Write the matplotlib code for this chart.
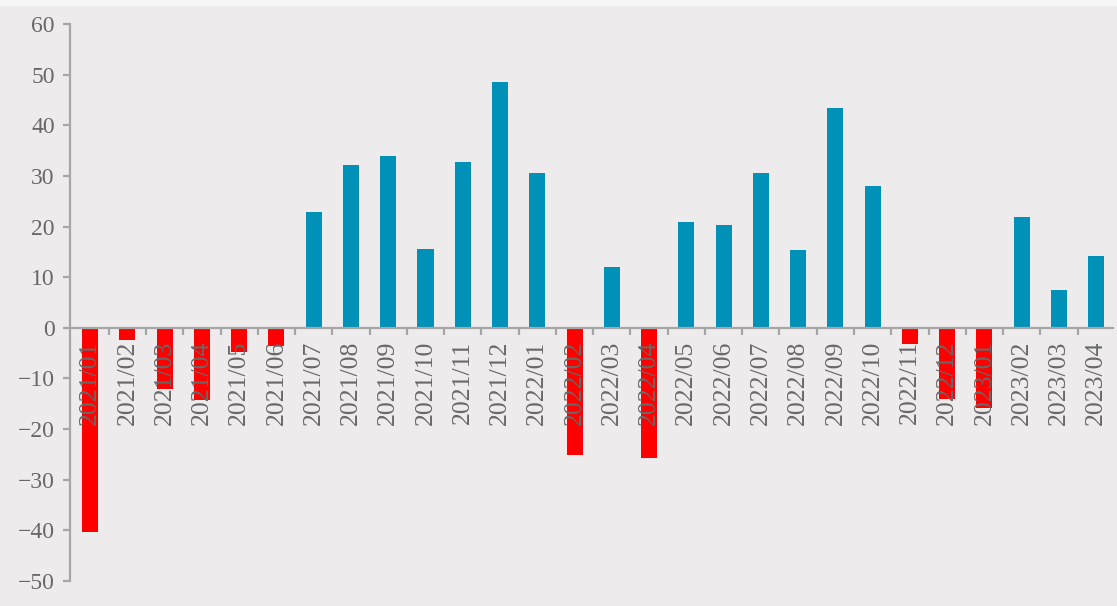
import numpy as np
import matplotlib.pyplot as plt
from matplotlib.patches import Rectangle

# ----------------- DATA -----------------

months = [
    "2021/01", "2021/02", "2021/03", "2021/04", "2021/05", "2021/06",
    "2021/07", "2021/08", "2021/09", "2021/10", "2021/11", "2021/12",
    "2022/01", "2022/02", "2022/03", "2022/04", "2022/05", "2022/06",
    "2022/07", "2022/08", "2022/09", "2022/10", "2022/11", "2022/12",
    "2023/01", "2023/02", "2023/03", "2023/04",
]
values = [
    -40.4, -2.5, -12.0, -14.2, -4.7, -3.6,
    22.9, 32.2, 34.0, 15.6, 32.8, 48.6,
    30.6, -25.2, 12.1, -25.7, 20.9, 20.3,
    30.6, 15.3, 43.4, 28.0, -3.1, -14.1,
    -15.8, 21.8, 7.4, 14.2,
]
y_ticks = [-50, -40, -30, -20, -10, 0, 10, 20, 30, 40, 50, 60]

# ----------------- STYLE -----------------

bg = "#edebec"
spine_color = "#a6a6a6"
text_color = "#686868"
pos_color = "#0091b8"
neg_color = "#ff0000"

plt.rcParams["font.family"] = ["Liberation Serif", "DejaVu Serif"]

fig = plt.figure(figsize=(11.17, 6.06), dpi=100, facecolor=bg)
ax = fig.add_axes([70 / 1117, 25 / 606, 1043 / 1117, 557 / 606])
ax.set_facecolor(bg)

# light strip along the top edge
fig.patches.append(Rectangle((0, 1 - 6 / 606), 1, 6 / 606, transform=fig.transFigure,
                             facecolor="#f6f6f6", edgecolor="none"))

x = np.arange(len(months))
colors = [pos_color if v >= 0 else neg_color for v in values]
ax.bar(x, values, width=0.43, color=colors, zorder=1)

ax.set_xlim(-0.54, len(months) - 0.55)
ax.set_ylim(-50, 60)
ax.set_yticks(y_ticks)
ax.set_yticklabels([str(t).replace("-", "\u2212") for t in y_ticks])

ax.set_xticks(x)
ax.set_xticklabels(months)
ax.set_xticks(x[:-1] + 0.5, minor=True)

for side in ["top", "right"]:
    ax.spines[side].set_visible(False)
ax.spines["bottom"].set_position(("data", 0))
for side in ["left", "bottom"]:
    ax.spines[side].set_color(spine_color)
    ax.spines[side].set_linewidth(1.6)

ax.tick_params(axis="x", which="major", length=0, pad=9, labelsize=18.5,
               labelcolor=text_color, labelrotation=90)
ax.tick_params(axis="x", which="minor", length=5, width=1.6, color=spine_color, direction="out")
ax.tick_params(axis="y", length=5, width=1.6, color=spine_color, pad=6,
               labelsize=17, labelcolor=text_color)

fig.savefig("out.png", dpi=100, facecolor=bg)
